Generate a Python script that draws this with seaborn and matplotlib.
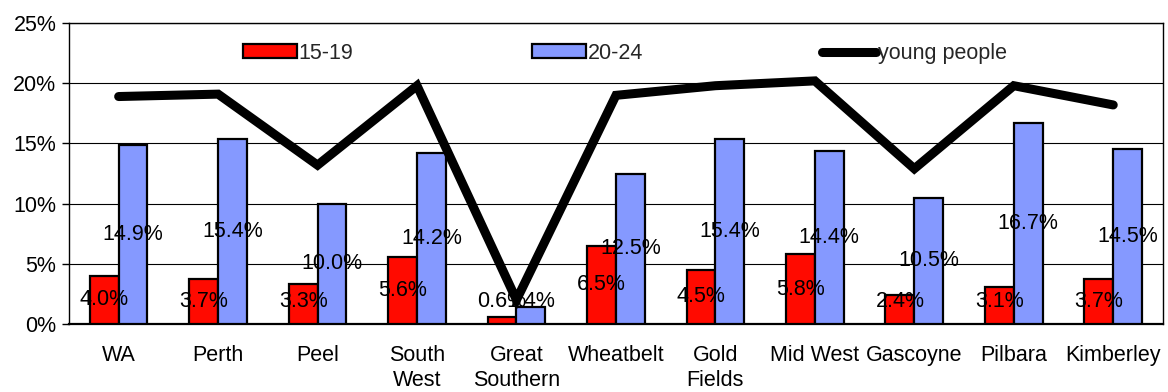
import matplotlib
matplotlib.use('Agg')
import matplotlib.pyplot as plt
import matplotlib.ticker as mticker
import numpy as np
import pandas as pd
import seaborn as sns

regions = ['WA', 'Perth', 'Peel', 'South\nWest', 'Great\nSouthern', 'Wheatbelt',
           'Gold\nFields', 'Mid West', 'Gascoyne', 'Pilbara', 'Kimberley']
age_15_19 = [4.0, 3.7, 3.3, 5.6, 0.6, 6.5, 4.5, 5.8, 2.4, 3.1, 3.7]
age_20_24 = [14.9, 15.4, 10.0, 14.2, 1.4, 12.5, 15.4, 14.4, 10.5, 16.7, 14.5]
young_people = [18.9, 19.1, 13.2, 19.8, 2.0, 19.0, 19.8, 20.2, 12.9, 19.8, 18.2]

sns.set_style('white')
plt.rcParams['font.family'] = ['Liberation Sans', 'DejaVu Sans']
fs = 15.5

df = pd.DataFrame({
    'region': regions * 2,
    'value': age_15_19 + age_20_24,
    'age': ['15-19'] * len(regions) + ['20-24'] * len(regions),
})

fig = plt.figure(figsize=(11.68, 3.92), dpi=100)
ax = fig.add_axes([0.059, 0.1735, 0.9367, 0.7675])

sns.barplot(data=df, x='region', y='value', hue='age', order=regions,
            palette=['#FF0A00', '#8599FF'], width=0.58, gap=0,
            edgecolor='black', linewidth=1.6, saturation=1, ax=ax, zorder=3)
sns.lineplot(x=np.arange(len(regions)), y=young_people, color='black',
             linewidth=6.5, label='young people', ax=ax, zorder=4,
             solid_capstyle='round', solid_joinstyle='miter')

for cont in ax.containers:
    for bar in cont:
        h = bar.get_height()
        ax.text(bar.get_x() + bar.get_width() / 2, max(h / 2, 1.9), f'{h:.1f}%',
                ha='center', va='center', fontsize=fs, color='black', zorder=5)

ax.set_xlim(-0.5, 10.5)
ax.set_ylim(0, 25)
ax.yaxis.set_major_locator(mticker.MultipleLocator(5))
ax.yaxis.set_major_formatter(mticker.FuncFormatter(lambda v, p: f'{v:.0f}%'))
ax.grid(axis='y', color='black', linewidth=0.8, zorder=0)
ax.set_axisbelow(True)
ax.set_xlabel('')
ax.set_ylabel('')

ax.set_xticks(np.arange(len(regions)))
ax.set_xticklabels(regions, linespacing=1.25, va='top')
ax.set_xticks(np.arange(-0.5, len(regions)), minor=True)
ax.tick_params(axis='x', which='major', length=0, pad=15)
ax.tick_params(axis='x', which='minor', length=6, width=1, color='black', direction='out')
ax.tick_params(axis='y', length=5, width=1, color='black', direction='out', left=True, pad=4)
ax.tick_params(labelsize=fs, colors='black')

for side in ['left', 'right', 'top', 'bottom']:
    ax.spines[side].set_visible(True)
    ax.spines[side].set_color('black')
    ax.spines[side].set_linewidth(1)
ax.spines['bottom'].set_linewidth(1.6)

handles, labels = ax.get_legend_handles_labels()
ax.legend(handles, labels, loc='center left', bbox_to_anchor=(0.159, 0.90),
          ncol=3, frameon=False, fontsize=fs, handlelength=2.5, handleheight=0.6,
          handletextpad=0.1, columnspacing=8.3, borderpad=0, borderaxespad=0)

fig.savefig('out.png', dpi=100)
